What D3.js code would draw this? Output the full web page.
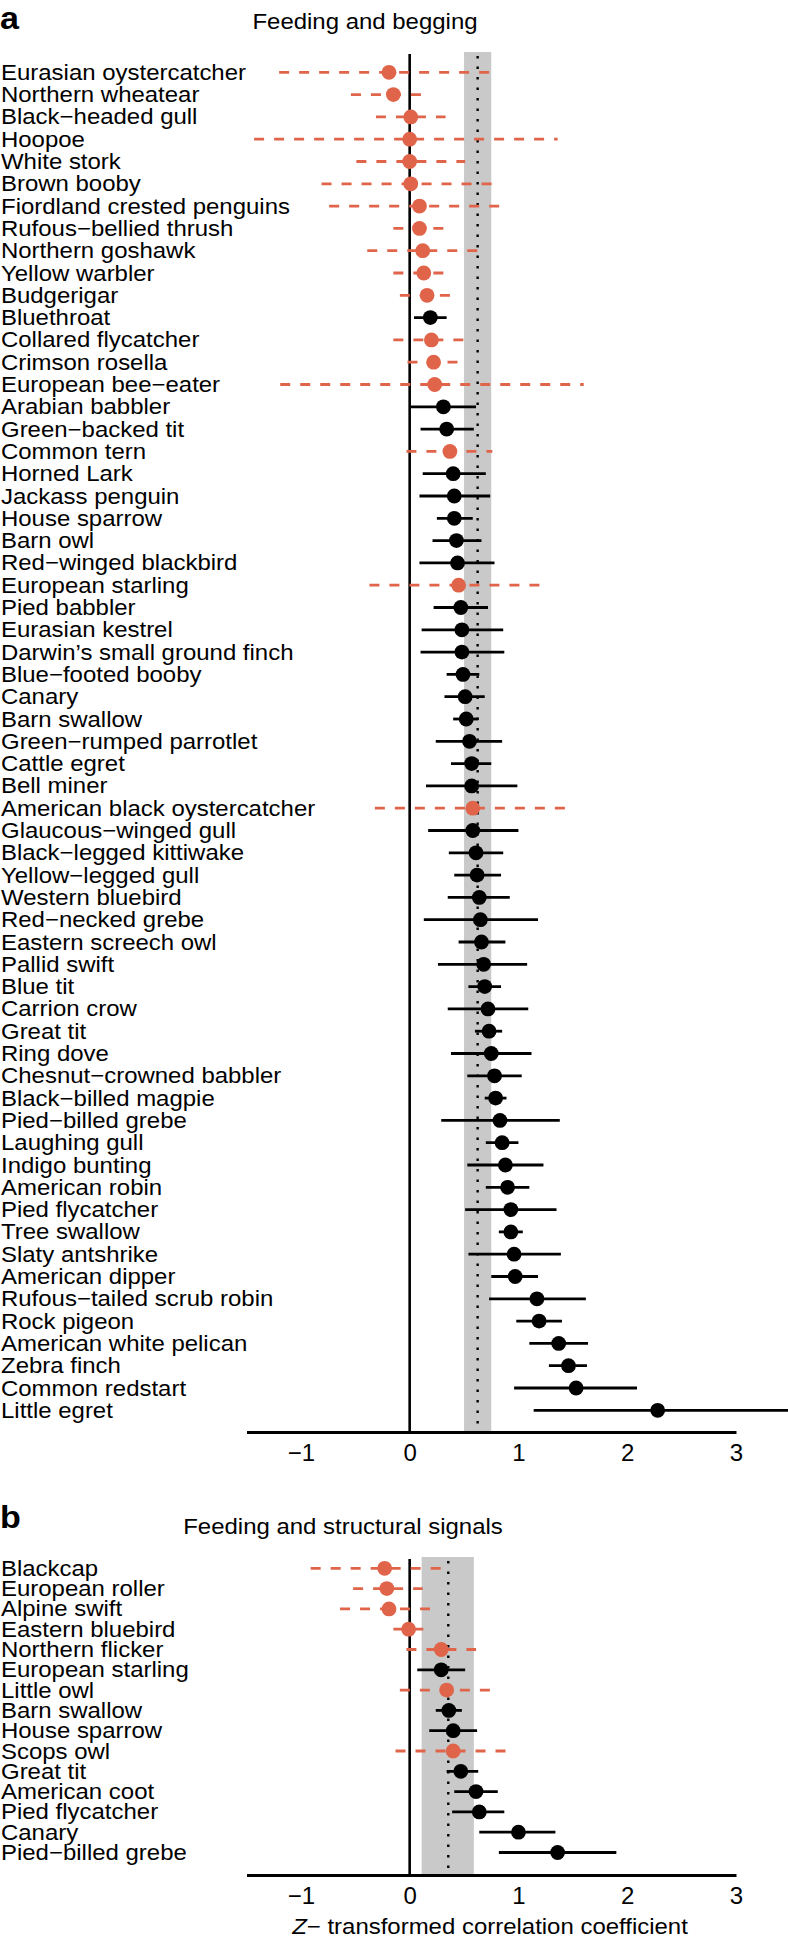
<!DOCTYPE html>
<html lang="en">
<head>
<meta charset="UTF-8">
<title>Forest plots</title>
<script src="https://d3js.org/d3.v7.min.js"></script>
<style>
    body { margin: 0; background: #fff; }
    svg { display: block; }
    text { font-family: "Liberation Sans", Arial, Helvetica, sans-serif; fill: #000; }
</style>
</head>
<body>
<svg id="chart" width="788" height="1939"></svg>
<script>
// ---- panel a: feeding and begging ----
const namesA = ["Eurasian oystercatcher", "Northern wheatear", "Black\u2212headed gull", "Hoopoe", "White stork",
    "Brown booby", "Fiordland crested penguins", "Rufous\u2212bellied thrush", "Northern goshawk", "Yellow warbler",
    "Budgerigar", "Bluethroat", "Collared flycatcher", "Crimson rosella", "European bee\u2212eater",
    "Arabian babbler", "Green\u2212backed tit", "Common tern", "Horned Lark", "Jackass penguin",
    "House sparrow", "Barn owl", "Red\u2212winged blackbird", "European starling", "Pied babbler",
    "Eurasian kestrel", "Darwin\u2019s small ground finch", "Blue\u2212footed booby", "Canary", "Barn swallow",
    "Green\u2212rumped parrotlet", "Cattle egret", "Bell miner", "American black oystercatcher", "Glaucous\u2212winged gull",
    "Black\u2212legged kittiwake", "Yellow\u2212legged gull", "Western bluebird", "Red\u2212necked grebe", "Eastern screech owl",
    "Pallid swift", "Blue tit", "Carrion crow", "Great tit", "Ring dove",
    "Chesnut\u2212crowned babbler", "Black\u2212billed magpie", "Pied\u2212billed grebe", "Laughing gull", "Indigo bunting",
    "American robin", "Pied flycatcher", "Tree swallow", "Slaty antshrike", "American dipper",
    "Rufous\u2212tailed scrub robin", "Rock pigeon", "American white pelican", "Zebra finch", "Common redstart",
    "Little egret"];
const estA = [-0.19, -0.15, 0.01, 0.00, 0.00, 0.01, 0.09, 0.09, 0.12, 0.13,
    0.16, 0.19, 0.20, 0.22, 0.23, 0.31, 0.34, 0.37, 0.40, 0.41,
    0.41, 0.43, 0.44, 0.45, 0.47, 0.48, 0.48, 0.49, 0.51, 0.52,
    0.55, 0.57, 0.57, 0.58, 0.58, 0.61, 0.62, 0.64, 0.65, 0.66,
    0.68, 0.69, 0.72, 0.73, 0.75, 0.78, 0.79, 0.83, 0.85, 0.88,
    0.90, 0.93, 0.93, 0.96, 0.97, 1.17, 1.19, 1.37, 1.46, 1.53,
    2.28];
const lowA = [-1.20, -0.54, -0.31, -1.43, -0.49, -0.81, -0.74, -0.15, -0.39, -0.15,
    -0.09, 0.04, -0.15, -0.02, -1.19, 0.01, 0.10, -0.03, 0.12, 0.09,
    0.25, 0.21, 0.09, -0.37, 0.22, 0.11, 0.10, 0.34, 0.32, 0.40,
    0.24, 0.38, 0.15, -0.32, 0.17, 0.36, 0.41, 0.35, 0.13, 0.45,
    0.26, 0.54, 0.35, 0.60, 0.38, 0.53, 0.69, 0.29, 0.70, 0.53,
    0.70, 0.51, 0.82, 0.54, 0.75, 0.73, 0.98, 1.10, 1.28, 0.96,
    1.14];
const highA = [0.81, 0.13, 0.33, 1.36, 0.51, 0.81, 0.88, 0.32, 0.63, 0.33,
    0.38, 0.34, 0.52, 0.45, 1.60, 0.61, 0.59, 0.76, 0.70, 0.74,
    0.58, 0.66, 0.78, 1.26, 0.72, 0.86, 0.87, 0.64, 0.69, 0.63,
    0.85, 0.75, 0.99, 1.49, 1.00, 0.86, 0.84, 0.92, 1.18, 0.88,
    1.08, 0.84, 1.09, 0.85, 1.12, 1.03, 0.89, 1.38, 1.00, 1.23,
    1.10, 1.35, 1.04, 1.39, 1.18, 1.62, 1.40, 1.64, 1.63, 2.09,
    3.60];
// 1 = red dashed study, 0 = black solid
const flagA = [1, 1, 1, 1, 1, 1, 1, 1, 1, 1,
    1, 0, 1, 1, 1, 0, 0, 1, 0, 0,
    0, 0, 0, 1, 0, 0, 0, 0, 0, 0,
    0, 0, 0, 1, 0, 0, 0, 0, 0, 0,
    0, 0, 0, 0, 0, 0, 0, 0, 0, 0,
    0, 0, 0, 0, 0, 0, 0, 0, 0, 0,
    0];
const meanA = [0.50, 0.625, 0.75]; // lower, mean, upper

// ---- panel b: feeding and structural signals ----
const namesB = ["Blackcap", "European roller", "Alpine swift", "Eastern bluebird", "Northern flicker",
    "European starling", "Little owl", "Barn swallow", "House sparrow", "Scops owl",
    "Great tit", "American coot", "Pied flycatcher", "Canary", "Pied\u2212billed grebe"];
const estB = [-0.23, -0.21, -0.19, -0.01, 0.29, 0.29, 0.34, 0.36, 0.40, 0.40, 0.47, 0.61, 0.64, 1.00, 1.36];
const lowB = [-0.91, -0.52, -0.64, -0.15, -0.03, 0.07, -0.09, 0.24, 0.18, -0.13, 0.34, 0.41, 0.39, 0.64, 0.82];
const highB = [0.34, 0.12, 0.22, 0.13, 0.61, 0.51, 0.77, 0.48, 0.62, 0.91, 0.63, 0.81, 0.87, 1.34, 1.90];
const flagB = [1, 1, 1, 1, 1, 0, 1, 0, 0, 1, 0, 0, 0, 0, 0];
const meanB = [0.11, 0.355, 0.59];

const xTicks = [-1, 0, 1, 2, 3];

const RED = "#e0644a";
const SX = 1.065; // text in the reference is slightly wide

const svg = d3.select("#chart");

const x = d3.scaleLinear().domain([-1.5, 3]).range([246.5, 736]);

function addText(g, str, px, py, anchor, size, weight) {
    return g.append("text")
        .attr("transform", "translate(" + px + "," + py + ") scale(" + SX + ",1)")
        .attr("text-anchor", anchor)
        .style("font-size", size + "px")
        .style("font-weight", weight || "normal")
        .text(str);
}

function drawPanel(opt) {
    const g = svg.append("g");
    const rows = opt.names.map(function (n, i) {
        return { name: n, est: opt.est[i], lo: opt.low[i], hi: opt.high[i], red: opt.flag[i] === 1 };
    });
    const y = d3.scalePoint().domain(opt.names).range([opt.firstRow, opt.lastRow]);

    // summary band + dotted mean
    g.append("rect")
        .attr("x", x(opt.mean[0])).attr("width", x(opt.mean[2]) - x(opt.mean[0]))
        .attr("y", opt.top).attr("height", opt.axisY - opt.top)
        .attr("fill", "#c9c9c9");
    g.append("line")
        .attr("x1", x(opt.mean[1])).attr("x2", x(opt.mean[1]))
        .attr("y1", opt.top + 4).attr("y2", opt.axisY)
        .attr("stroke", "#000").attr("stroke-width", 2.4)
        .attr("stroke-dasharray", "2.4 8.1");

    // zero line
    g.append("line")
        .attr("x1", x(0)).attr("x2", x(0))
        .attr("y1", opt.top + 2).attr("y2", opt.axisY)
        .attr("stroke", "#000").attr("stroke-width", 2.6);

    // confidence intervals
    g.selectAll(".ci").data(rows).enter().append("line")
        .attr("x1", function (d) { return x(d.lo); })
        .attr("x2", function (d) { return x(d.hi); })
        .attr("y1", function (d) { return y(d.name); })
        .attr("y2", function (d) { return y(d.name); })
        .attr("stroke", function (d) { return d.red ? RED : "#000"; })
        .attr("stroke-width", 2.8)
        .attr("stroke-dasharray", function (d) { return d.red ? "10 10" : null; });

    // point estimates
    g.selectAll(".pt").data(rows).enter().append("circle")
        .attr("cx", function (d) { return x(d.est); })
        .attr("cy", function (d) { return y(d.name); })
        .attr("r", 7.4)
        .attr("fill", function (d) { return d.red ? RED : "#000"; });

    // species labels
    rows.forEach(function (d) {
        addText(g, d.name, 1, y(d.name) + 7.5, "start", 22.5);
    });

    // x axis
    const ax = g.append("g")
        .attr("transform", "translate(0," + opt.axisY + ")")
        .call(d3.axisBottom(x).tickValues(xTicks).tickFormat(d3.format("d"))
            .tickSize(0).tickSizeOuter(0).tickPadding(12));
    ax.select(".domain").attr("stroke", "#000").attr("stroke-width", 2.8);
    ax.selectAll(".tick text")
        .style("font-size", "24px")
        .style("font-family", "'Liberation Sans', Arial, Helvetica, sans-serif")
        .attr("fill", "#000");

    // panel letter and title
    addText(g, opt.letter, 0, opt.letterY, "start", 32, "bold");
    addText(g, opt.title, opt.titleX, opt.titleY, "middle", 22.5);
    return g;
}

drawPanel({
    names: namesA, est: estA, low: lowA, high: highA, flag: flagA, mean: meanA,
    firstRow: 72.3, lastRow: 1410.3, top: 52, axisY: 1432,
    letter: "a", letterY: 29, title: "Feeding and begging", titleX: 365, titleY: 29
});

const gb = drawPanel({
    names: namesB, est: estB, low: lowB, high: highB, flag: flagB, mean: meanB,
    firstRow: 1568.3, lastRow: 1852.5, top: 1557, axisY: 1875,
    letter: "b", letterY: 1528, title: "Feeding and structural signals", titleX: 343, titleY: 1534
});

// x axis title under panel b
const xt = gb.append("text")
    .attr("transform", "translate(490,1934) scale(" + SX + ",1)")
    .attr("text-anchor", "middle")
    .style("font-size", "22.5px");
xt.append("tspan").style("font-style", "italic").text("Z");
xt.append("tspan").text("\u2212 transformed correlation coefficient");
</script>
</body>
</html>
